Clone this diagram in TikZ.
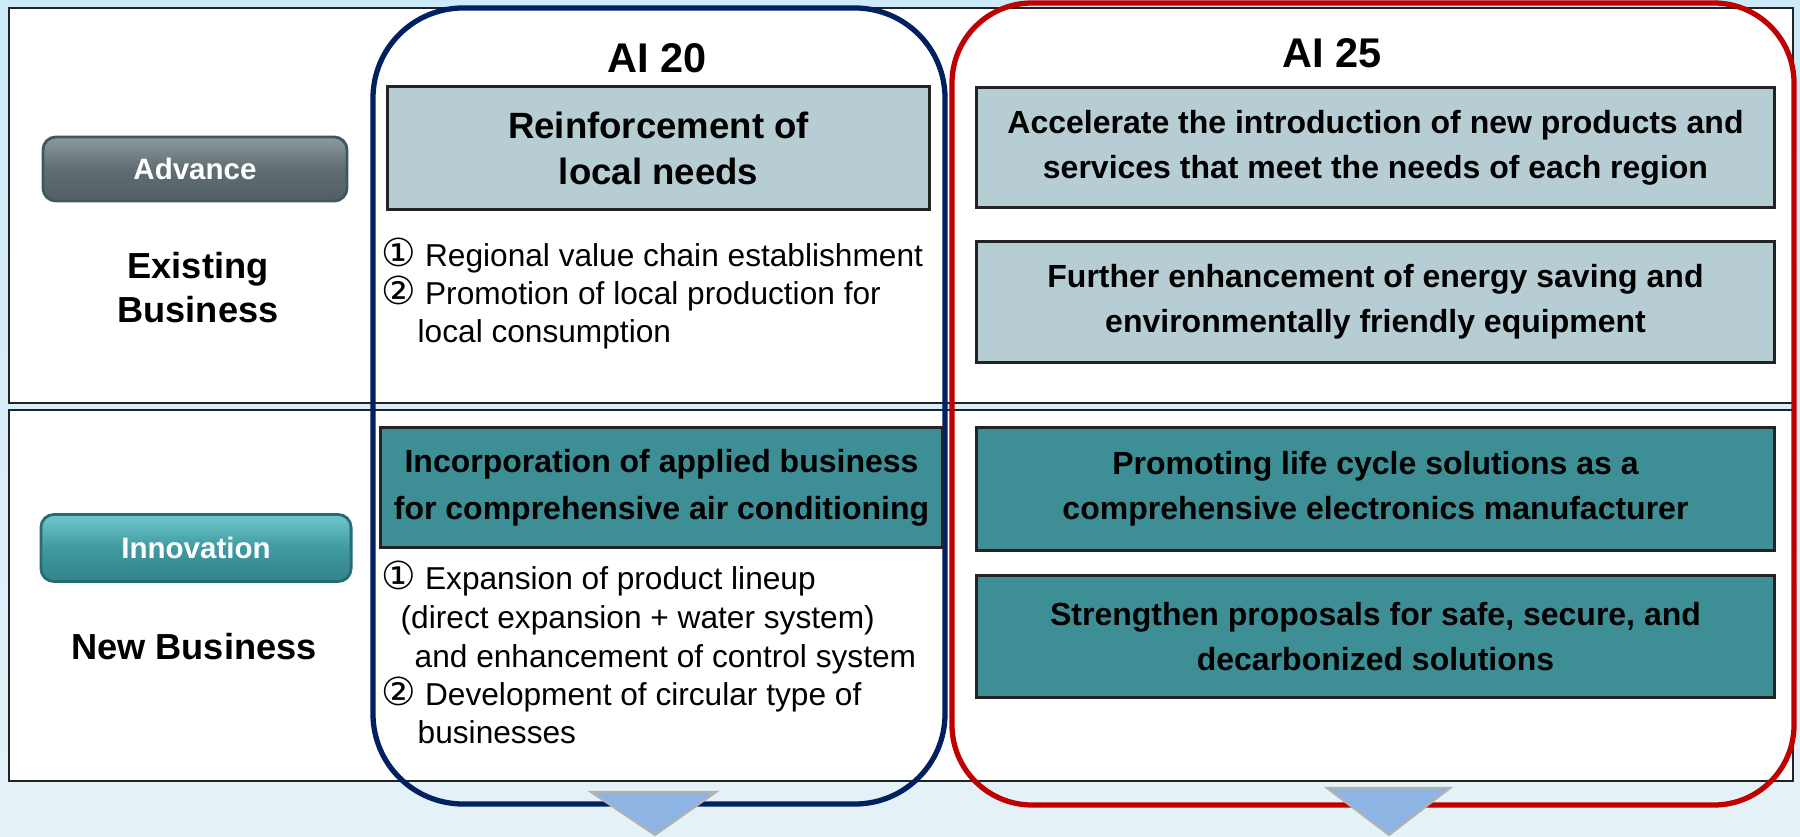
\documentclass[tikz,border=0pt]{standalone}
\usepackage{fontspec}
\setmainfont{Liberation Sans}
\newfontfamily\circfont[Scale=1.22]{DejaVu Sans}
\usepackage{tikz}
\usetikzlibrary{calc,positioning}
\definecolor{fondoArriba}{RGB}{204,234,250}
\definecolor{fondoAbajo}{RGB}{229,242,248}
\definecolor{marino}{RGB}{0,32,96}
\definecolor{rojo}{RGB}{192,0,0}
\definecolor{grisAzul}{RGB}{182,205,212}
\definecolor{turquesa}{RGB}{62,142,150}
\definecolor{celeste}{RGB}{142,180,227}
\definecolor{borde}{RGB}{35,35,35}
\definecolor{pizarra}{RGB}{96,110,115}
\definecolor{pizarraClara}{RGB}{140,154,158}
\definecolor{pizarraOscura}{RGB}{62,88,98}
\definecolor{aguamarina}{RGB}{62,154,160}
\definecolor{aguamarinaClara}{RGB}{112,200,206}
\definecolor{aguamarinaOscura}{RGB}{38,108,116}
\newcommand{\uno}{{\circfont ①}}
\newcommand{\dos}{{\circfont ②}}
\tikzstyle{fila}  =[draw=borde, fill=white, line width=0.75pt]
\tikzstyle{marco} =[line width=1.5pt]
\tikzstyle{caja}  =[draw=borde, line width=0.85pt, inner sep=0pt,
                    align=center, font=\bfseries\fontsize{9.1}{12.8}\selectfont]
\tikzstyle{claro} =[caja, fill=grisAzul]
\tikzstyle{oscuro}=[caja, fill=turquesa]
\tikzstyle{boton} =[rounded corners=0.13cm, line width=0.8pt, inner sep=0pt,
                    text=white, font=\bfseries\fontsize{8.4}{10}\selectfont]
\tikzstyle{item}  =[anchor=base west, inner sep=0pt,
                    font=\fontsize{9}{10.8}\selectfont]
\tikzstyle{titulo}=[font=\bfseries\fontsize{11.8}{14}\selectfont]
\tikzstyle{etiqueta}=[align=center, font=\bfseries\fontsize{10.3}{12.5}\selectfont]
\tikzstyle{flecha}=[fill=celeste, draw=gray!60, line width=0.6pt]

\begin{document}
\begin{tikzpicture}[x=0.01cm,y=-0.01cm]
    \useasboundingbox (0,0) rectangle (1800,837);
    \fill[top color=fondoArriba, bottom color=fondoAbajo] (0,0) rectangle (1800,837);

    % filas
    \draw[fila] (9,8) rectangle (1793,403);
    \draw[fila] (9,410) rectangle (1793,781);

    % columnas
    \draw[marco, marino, rounded corners=0.9cm] (373,8) rectangle (945,804);
    \draw[marco, rojo, rounded corners=0.8cm] (952,3) rectangle (1794,805);

    \filldraw[flecha] (591,792) -- (716,792) -- (655,835) -- cycle;
    \filldraw[flecha] (1327,788) -- (1450,788) -- (1389,835) -- cycle;

    % izquierda
    \draw (195,169) node(avance)[boton, minimum width=3.04cm, minimum height=0.64cm,
        draw=pizarraOscura, top color=pizarraClara, bottom color=pizarra!85!black,
        middle color=pizarra] {Advance};
    \draw (196,548) node(innova)[boton, minimum width=3.1cm, minimum height=0.67cm,
        draw=aguamarinaOscura, top color=aguamarinaClara, bottom color=aguamarina!85!black,
        middle color=aguamarina] {Innovation};
    \draw (198,288) node(existente)[etiqueta] {Existing\\Business};
    \draw (194,647) node(nuevo)[etiqueta] {New Business};

    % AI 20
    \draw (657,58) node(ai20)[titulo] {AI 20};
    \draw (658.5,148) node(reforzar)[claro, minimum width=5.41cm, minimum height=1.22cm,
        font=\bfseries\fontsize{10.4}{13.1}\selectfont] {Reinforcement of\\local needs};
    \draw (661.5,487.5) node(incorpora)[oscuro, minimum width=5.61cm, minimum height=1.19cm,
        font=\bfseries\fontsize{9.1}{13.4}\selectfont]
        {Incorporation of applied business\\for comprehensive air conditioning};

    \foreach \n/\x/\y/\txt in {1/381/267/{\uno\ Regional value chain establishment},
        2/381/305/{\dos\ Promotion of local production for},
        3/417/343/{local consumption},
        4/381/590/{\uno\ Expansion of product lineup},
        5/400/628/{(direct expansion + water system)},
        6/414/667/{and enhancement of control system},
        7/381/705/{\dos\ Development of circular type of},
        8/417/743/{businesses}}
        \draw (\x,\y) node(linea\n)[item] {\txt};

    % AI 25
    \draw (1332,53) node(ai25)[titulo] {AI 25};
    \draw (1375.5,147.5) node(acelera)[claro, minimum width=7.97cm, minimum height=1.19cm]
        {Accelerate the introduction of new products and\\services that meet the needs of each region};
    \draw (1375.5,302) node(ahorro)[claro, minimum width=7.97cm, minimum height=1.2cm]
        {Further enhancement of energy saving and\\environmentally friendly equipment};
    \draw (1375.5,489) node(ciclo)[oscuro, minimum width=7.97cm, minimum height=1.22cm]
        {Promoting life cycle solutions as a\\comprehensive electronics manufacturer};
    \draw (1375.5,636.5) node(seguro)[oscuro, minimum width=7.97cm, minimum height=1.21cm]
        {Strengthen proposals for safe, secure, and\\decarbonized solutions};
\end{tikzpicture}
\end{document}
